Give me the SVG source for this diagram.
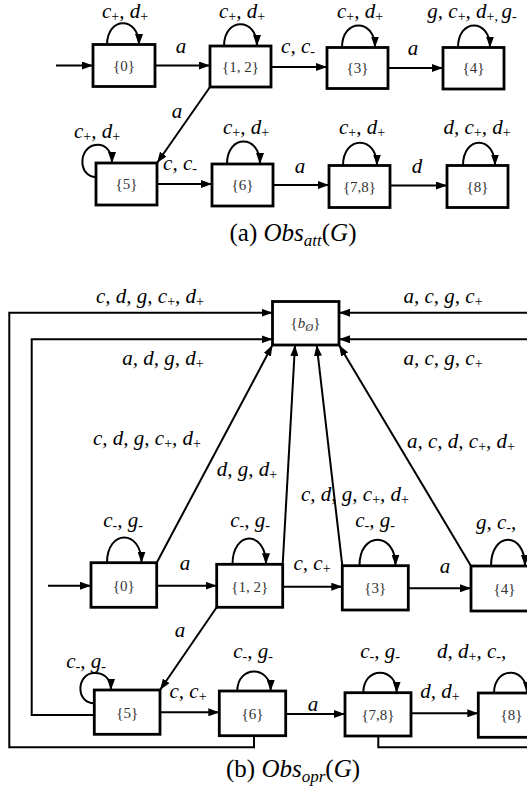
<svg xmlns="http://www.w3.org/2000/svg" width="527" height="789" viewBox="0 0 527 789">
<defs>
<style>
.box{fill:#fff;stroke:#000;stroke-width:2.8}
.e{fill:none;stroke:#000;stroke-width:2;marker-end:url(#ah)}
.ln{fill:none;stroke:#000;stroke-width:2}
.lbl{font-family:"Liberation Serif","Times New Roman",serif;font-style:italic;font-size:21px;fill:#000}
.s{font-size:14px;font-style:normal}
.nl{font-family:"Liberation Serif","Times New Roman",serif;font-size:15px;fill:#333}
.cap{font-family:"Liberation Serif","Times New Roman",serif;font-size:25px;fill:#000}
</style>
<marker id="ah" markerUnits="userSpaceOnUse" markerWidth="11" markerHeight="8" refX="11" refY="4" orient="auto">
<path d="M0,0 L11,4 L0,8 z" fill="#000"/>
</marker>
</defs>
<rect width="527" height="789" fill="#fff"/>

<!-- ===== (a) ===== -->
<g id="connectors-a">
<path class="e" d="M56,65.5 L93,65.5"/>
<path class="e" d="M155,65.5 L210,65.5"/>
<path class="e" d="M271,67 L327,67"/>
<path class="e" d="M388,68 L443,68"/>
<path class="e" d="M210,87 L157,163"/>
<path class="e" d="M157,184 L212,184"/>
<path class="e" d="M273,185 L329,185"/>
<path class="e" d="M390,185.5 L447,185.5"/>
<path class="e" d="M107,45 C107,16 139,16 139,45"/>
<path class="e" d="M224,46 C224,17 257,17 257,46"/>
<path class="e" d="M342,47.5 C342,18 375,18 375,47.5"/>
<path class="e" d="M458,47.5 C458,18 490,18 490,47.5"/>
<path class="e" d="M96,177 C78,177 78,148 95,145 C104,143 112,150 112,163"/>
<path class="e" d="M227,164 C227,134 260,134 260,164"/>
<path class="e" d="M343,165.5 C343,135 377,135 377,165.5"/>
<path class="e" d="M463,165.5 C463,135 495,135 495,165.5"/>
</g>
<g id="labels-a">
<text class="lbl" x="181" y="53" text-anchor="middle">a</text>
<text class="lbl" x="298" y="53" text-anchor="middle">c, c<tspan class="s" dy="3">-</tspan></text>
<text class="lbl" x="413" y="55" text-anchor="middle">a</text>
<text class="lbl" x="177" y="118" text-anchor="middle">a</text>
<text class="lbl" x="180" y="170" text-anchor="middle">c, c<tspan class="s" dy="3">-</tspan></text>
<text class="lbl" x="300" y="173" text-anchor="middle">a</text>
<text class="lbl" x="417" y="173" text-anchor="middle">d</text>
<text class="lbl" x="125" y="18" text-anchor="middle">c<tspan class="s" dy="3">+</tspan><tspan dy="-3">, d</tspan><tspan class="s" dy="3">+</tspan></text>
<text class="lbl" x="242" y="18" text-anchor="middle">c<tspan class="s" dy="3">+</tspan><tspan dy="-3">, d</tspan><tspan class="s" dy="3">+</tspan></text>
<text class="lbl" x="360" y="18" text-anchor="middle">c<tspan class="s" dy="3">+</tspan><tspan dy="-3">, d</tspan><tspan class="s" dy="3">+</tspan></text>
<text class="lbl" x="472" y="18" text-anchor="middle">g, c<tspan class="s" dy="3">+</tspan><tspan dy="-3">, d</tspan><tspan class="s" dy="3">+, </tspan><tspan dy="-3">g</tspan><tspan class="s" dy="3">-</tspan></text>
<text class="lbl" x="97" y="138" text-anchor="middle">c<tspan class="s" dy="3">+</tspan><tspan dy="-3">, d</tspan><tspan class="s" dy="3">+</tspan></text>
<text class="lbl" x="246" y="134" text-anchor="middle">c<tspan class="s" dy="3">+</tspan><tspan dy="-3">, d</tspan><tspan class="s" dy="3">+</tspan></text>
<text class="lbl" x="362" y="134" text-anchor="middle">c<tspan class="s" dy="3">+</tspan><tspan dy="-3">, d</tspan><tspan class="s" dy="3">+</tspan></text>
<text class="lbl" x="477" y="134" text-anchor="middle">d, c<tspan class="s" dy="3">+</tspan><tspan dy="-3">, d</tspan><tspan class="s" dy="3">+</tspan></text>
</g>
<g id="a-n0"><rect class="box" x="93" y="44.5" width="62" height="42"/><text class="nl" x="124" y="70.5" text-anchor="middle">{0}</text></g>
<g id="a-n12"><rect class="box" x="210" y="46" width="61" height="41"/><text class="nl" x="240.5" y="71.5" text-anchor="middle">{1, 2}</text></g>
<g id="a-n3"><rect class="box" x="327" y="47.5" width="61" height="41"/><text class="nl" x="357.5" y="73" text-anchor="middle">{3}</text></g>
<g id="a-n4"><rect class="box" x="443" y="47.5" width="61" height="41.5"/><text class="nl" x="473.5" y="73" text-anchor="middle">{4}</text></g>
<g id="a-n5"><rect class="box" x="96" y="163" width="61" height="42"/><text class="nl" x="126.5" y="189" text-anchor="middle">{5}</text></g>
<g id="a-n6"><rect class="box" x="212" y="164" width="61" height="42"/><text class="nl" x="242.5" y="190" text-anchor="middle">{6}</text></g>
<g id="a-n78"><rect class="box" x="329" y="165.5" width="61" height="42"/><text class="nl" x="359.5" y="191.5" text-anchor="middle">{7,8}</text></g>
<g id="a-n8"><rect class="box" x="447" y="165.5" width="61" height="42"/><text class="nl" x="477.5" y="191.5" text-anchor="middle">{8}</text></g>
<text class="cap" x="293" y="241" text-anchor="middle">(a) <tspan font-style="italic">Obs</tspan><tspan font-style="italic" font-size="17" dy="5">att</tspan><tspan dy="-5">(</tspan><tspan font-style="italic">G</tspan>)</text>

<!-- ===== (b) ===== -->
<g id="connectors-b">
<path class="e" d="M254,735.7 L254,747.3 L9.3,747.3 L9.3,312.7 L272.5,312.7"/>
<path class="e" d="M94.3,715 L31.7,715 L31.7,339.3 L272.5,339.3"/>
<path class="e" d="M530,312.7 L339,312.7"/>
<path class="e" d="M530,339.3 L339,339.3"/>
<path class="ln" d="M378.3,736 L378.3,747.3 L530,747.3"/>
<path class="e" d="M156.7,562.7 L272.5,345"/>
<path class="e" d="M282.7,564.3 L295,345"/>
<path class="e" d="M342.3,565.7 L316.7,345"/>
<path class="e" d="M471,566 L339,345"/>
<path class="e" d="M48,585.7 L91,585.7"/>
<path class="e" d="M156.7,585.7 L216.7,585.7"/>
<path class="e" d="M282.7,586.7 L342.3,586.7"/>
<path class="e" d="M408.3,588.3 L471,588.3"/>
<path class="e" d="M216.7,607.3 L160,690"/>
<path class="e" d="M160,712.3 L219.3,712.3"/>
<path class="e" d="M285.7,714 L345,714"/>
<path class="e" d="M411,713.3 L478.3,713.3"/>
<path class="e" d="M107,562.7 C107,529 141.5,529 141.5,562.7"/>
<path class="e" d="M232.5,564.3 C232.5,530 266,530 266,564.3"/>
<path class="e" d="M359.5,565.7 C359.5,531 395.5,531 395.5,565.7"/>
<path class="e" d="M491,566 C491,531 525,531 525,566"/>
<path class="e" d="M94.3,703.3 C76,703.3 76,675 93,673 C103,672 111,678 111,690"/>
<path class="e" d="M237.3,691 C237.3,665 270.7,665 270.7,691"/>
<path class="e" d="M363.3,692.7 C363.3,666 396.7,666 396.7,692.7"/>
<path class="e" d="M494,693 C494,666 527,666 527,693"/>
</g>
<g id="labels-b">
<text class="lbl" x="150" y="303" text-anchor="middle">c, d, g, c<tspan class="s" dy="3">+</tspan><tspan dy="-3">, d</tspan><tspan class="s" dy="3">+</tspan></text>
<text class="lbl" x="163" y="365" text-anchor="middle">a, d, g, d<tspan class="s" dy="3">+</tspan></text>
<text class="lbl" x="443" y="303" text-anchor="middle">a, c, g, c<tspan class="s" dy="3">+</tspan></text>
<text class="lbl" x="443" y="365" text-anchor="middle">a, c, g, c<tspan class="s" dy="3">+</tspan></text>
<text class="lbl" x="147" y="445" text-anchor="middle">c, d, g, c<tspan class="s" dy="3">+</tspan><tspan dy="-3">, d</tspan><tspan class="s" dy="3">+</tspan></text>
<text class="lbl" x="247" y="476" text-anchor="middle">d, g, d<tspan class="s" dy="3">+</tspan></text>
<text class="lbl" x="355" y="501" text-anchor="middle">c, d, g, c<tspan class="s" dy="3">+</tspan><tspan dy="-3">, d</tspan><tspan class="s" dy="3">+</tspan></text>
<text class="lbl" x="407" y="448" text-anchor="start">a, c, d, c<tspan class="s" dy="3">+</tspan><tspan dy="-3">, d</tspan><tspan class="s" dy="3">+</tspan></text>
<text class="lbl" x="185" y="570" text-anchor="middle">a</text>
<text class="lbl" x="312" y="570" text-anchor="middle">c, c<tspan class="s" dy="3">+</tspan></text>
<text class="lbl" x="445" y="573" text-anchor="middle">a</text>
<text class="lbl" x="123" y="527" text-anchor="middle">c<tspan class="s" dy="3">-</tspan><tspan dy="-3">, g</tspan><tspan class="s" dy="3">-</tspan></text>
<text class="lbl" x="250" y="527" text-anchor="middle">c<tspan class="s" dy="3">-</tspan><tspan dy="-3">, g</tspan><tspan class="s" dy="3">-</tspan></text>
<text class="lbl" x="375" y="527" text-anchor="middle">c<tspan class="s" dy="3">-</tspan><tspan dy="-3">, g</tspan><tspan class="s" dy="3">-</tspan></text>
<text class="lbl" x="476" y="529" text-anchor="start">g, c<tspan class="s" dy="3">-</tspan><tspan dy="-3">,</tspan></text>
<text class="lbl" x="180" y="637" text-anchor="middle">a</text>
<text class="lbl" x="86" y="668" text-anchor="middle">c<tspan class="s" dy="3">-</tspan><tspan dy="-3">, g</tspan><tspan class="s" dy="3">-</tspan></text>
<text class="lbl" x="188" y="698" text-anchor="middle">c, c<tspan class="s" dy="3">+</tspan></text>
<text class="lbl" x="253" y="658" text-anchor="middle">c<tspan class="s" dy="3">-</tspan><tspan dy="-3">, g</tspan><tspan class="s" dy="3">-</tspan></text>
<text class="lbl" x="313" y="711" text-anchor="middle">a</text>
<text class="lbl" x="380" y="658" text-anchor="middle">c<tspan class="s" dy="3">-</tspan><tspan dy="-3">, g</tspan><tspan class="s" dy="3">-</tspan></text>
<text class="lbl" x="440" y="698" text-anchor="middle">d, d<tspan class="s" dy="3">+</tspan></text>
<text class="lbl" x="437" y="658" text-anchor="start">d, d<tspan class="s" dy="3">+</tspan><tspan dy="-3">, c</tspan><tspan class="s" dy="3">-</tspan><tspan dy="-3">,</tspan></text>
</g>
<g id="b-nb"><rect class="box" x="272.5" y="301.5" width="66.5" height="43.5"/><text class="nl" x="305.5" y="327.5" text-anchor="middle" font-size="16">{<tspan font-style="italic">b</tspan><tspan font-style="italic" font-size="11" dy="3">Ø</tspan><tspan dy="-3">}</tspan></text></g>
<g id="b-n0"><rect class="box" x="91" y="562.7" width="65.7" height="44.6"/><text class="nl" x="123.8" y="590.5" text-anchor="middle">{0}</text></g>
<g id="b-n12"><rect class="box" x="216.7" y="564.3" width="66" height="43"/><text class="nl" x="249.7" y="591.5" text-anchor="middle">{1, 2}</text></g>
<g id="b-n3"><rect class="box" x="342.3" y="565.7" width="66" height="44.3"/><text class="nl" x="375.3" y="593" text-anchor="middle">{3}</text></g>
<g id="b-n4"><rect class="box" x="471" y="566" width="70" height="45"/><text class="nl" x="504.5" y="593.5" text-anchor="middle">{4}</text></g>
<g id="b-n5"><rect class="box" x="94.3" y="690" width="65.7" height="44.3"/><text class="nl" x="127.2" y="717.5" text-anchor="middle">{5}</text></g>
<g id="b-n6"><rect class="box" x="219.3" y="691" width="66.4" height="44.7"/><text class="nl" x="252.5" y="718.5" text-anchor="middle">{6}</text></g>
<g id="b-n78"><rect class="box" x="345" y="692.7" width="66" height="43.3"/><text class="nl" x="378" y="719.5" text-anchor="middle">{7,8}</text></g>
<g id="b-n8"><rect class="box" x="478.3" y="693" width="70" height="44.3"/><text class="nl" x="511.5" y="720" text-anchor="middle">{8}</text></g>
<text class="cap" x="293" y="777" text-anchor="middle">(b) <tspan font-style="italic">Obs</tspan><tspan font-style="italic" font-size="17" dy="5">opr</tspan><tspan dy="-5">(</tspan><tspan font-style="italic">G</tspan>)</text>
</svg>
